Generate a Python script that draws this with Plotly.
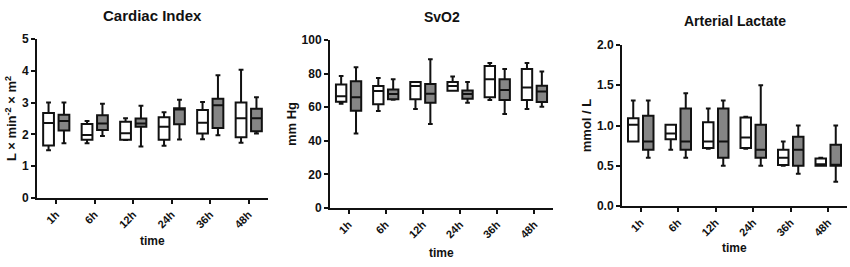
import plotly.graph_objects as go

times = ["1h", "6h", "12h", "24h", "36h", "48h"]

# Cardiac Index (L x min^-2 x m^2)
ci_w_min = [1.50, 1.72, 1.82, 1.64, 1.85, 1.74]
ci_w_q1 = [1.65, 1.83, 1.83, 1.83, 2.03, 1.91]
ci_w_med = [2.36, 1.98, 2.04, 2.24, 2.37, 2.51]
ci_w_q3 = [2.67, 2.33, 2.40, 2.54, 2.77, 3.00]
ci_w_max = [3.00, 2.42, 2.51, 2.70, 3.02, 4.03]
ci_g_min = [1.72, 1.95, 1.62, 1.84, 1.97, 2.03]
ci_g_q1 = [2.12, 2.14, 2.24, 2.32, 2.20, 2.10]
ci_g_med = [2.42, 2.34, 2.34, 2.78, 2.92, 2.51]
ci_g_q3 = [2.62, 2.60, 2.50, 2.82, 3.12, 2.81]
ci_g_max = [3.00, 2.96, 2.90, 3.09, 3.86, 3.17]

# SvO2 (mm Hg)
sv_w_min = [62.0, 57.7, 59.0, 69.8, 64.3, 59.0]
sv_w_q1 = [63.3, 61.7, 64.7, 69.8, 65.9, 64.3]
sv_w_med = [66.5, 69.6, 72.6, 72.6, 76.6, 71.8]
sv_w_q3 = [73.5, 72.6, 75.0, 75.0, 84.5, 82.8]
sv_w_max = [78.6, 77.4, 75.0, 78.2, 86.3, 86.3]
sv_g_min = [44.4, 64.5, 50.0, 62.7, 56.0, 60.3]
sv_g_q1 = [57.9, 64.7, 62.7, 65.0, 64.3, 63.1]
sv_g_med = [65.9, 67.8, 68.0, 67.8, 70.2, 69.4]
sv_g_q3 = [75.4, 70.6, 73.8, 70.0, 76.6, 72.8]
sv_g_max = [83.8, 76.6, 88.5, 75.0, 82.8, 81.2]

# Arterial Lactate (mmol / L)
la_w_min = [0.80, 0.70, 0.71, 0.71, 0.50, 0.50]
la_w_q1 = [0.80, 0.83, 0.72, 0.72, 0.51, 0.50]
la_w_med = [1.01, 0.90, 0.80, 0.85, 0.60, 0.52]
la_w_q3 = [1.09, 1.01, 1.04, 1.10, 0.70, 0.59]
la_w_max = [1.31, 1.01, 1.21, 1.11, 0.80, 0.60]
la_g_min = [0.60, 0.60, 0.50, 0.50, 0.40, 0.30]
la_g_q1 = [0.70, 0.70, 0.60, 0.60, 0.50, 0.50]
la_g_med = [0.80, 0.80, 0.80, 0.70, 0.70, 0.50]
la_g_q3 = [1.12, 1.21, 1.21, 1.01, 0.86, 0.76]
la_g_max = [1.31, 1.40, 1.31, 1.50, 1.00, 1.00]

panels = [
    ("Cardiac Index", "L × min<sup>-2</sup> × m<sup>2</sup>",
     (ci_w_min, ci_w_q1, ci_w_med, ci_w_q3, ci_w_max),
     (ci_g_min, ci_g_q1, ci_g_med, ci_g_q3, ci_g_max),
     [0, 5], 1, None),
    ("SvO2", "mm Hg",
     (sv_w_min, sv_w_q1, sv_w_med, sv_w_q3, sv_w_max),
     (sv_g_min, sv_g_q1, sv_g_med, sv_g_q3, sv_g_max),
     [0, 100], 20, None),
    ("Arterial Lactate", "mmol / L",
     (la_w_min, la_w_q1, la_w_med, la_w_q3, la_w_max),
     (la_g_min, la_g_q1, la_g_med, la_g_q3, la_g_max),
     [0, 2], 0.5, ".1f"),
]

W, H = 850, 267
# pixel geometry: (x_left, x_right, y_top, y_bottom)
geo = [(37, 268, 39, 198), (330, 553, 40, 208), (622, 847, 45, 206)]
title_y = [15, 17, 21]
title_size = [15, 14, 14]
time_y = [241, 253, 248]

FONT = "Liberation Sans, Arial, sans-serif"
fig = go.Figure()
layout = dict(
    width=W, height=H, margin=dict(l=0, r=0, t=0, b=0, autoexpand=False),
    paper_bgcolor="white", plot_bgcolor="white",
    showlegend=False, boxmode="group", boxgap=0.2, boxgroupgap=0.3,
    font=dict(family=FONT, color="#111111"),
)
annotations = []
for i, (title, ytitle, wv, gv, yr, dt, fmt) in enumerate(panels):
    n = "" if i == 0 else str(i + 1)
    xa, ya = "x" + n, "y" + n
    for vals, fill, grp in [(wv, "white", "a"), (gv, "#858585", "b")]:
        mn, q1, md, q3, mx = vals
        fig.add_trace(go.Box(
            x=times, lowerfence=mn, q1=q1, median=md, q3=q3, upperfence=mx,
            fillcolor=fill, line=dict(color="#111111", width=2),
            whiskerwidth=0.45, offsetgroup=grp, xaxis=xa, yaxis=ya,
            hoverinfo="skip",
        ))
    xl, xr, yt, yb = geo[i]
    layout["xaxis" + n] = dict(
        domain=[xl / W, xr / W], anchor=ya, type="category", automargin=False,
        range=[-0.5, 5.5], showline=True, linecolor="#111111", linewidth=2,
        ticks="outside", ticklen=4, tickwidth=2, tickcolor="#111111",
        tickangle=-45, tickfont=dict(size=11, family=FONT, weight="bold"),
        showgrid=False, zeroline=False,
    )
    layout["yaxis" + n] = dict(
        domain=[(H - yb) / H, (H - yt) / H], anchor=xa, range=yr, dtick=dt,
        automargin=False,
        tickformat=fmt, showline=True, linecolor="#111111", linewidth=2,
        ticks="outside", ticklen=4, tickwidth=2, tickcolor="#111111",
        tickfont=dict(size=12, family=FONT, weight="bold"),
        showgrid=False, zeroline=False,
        title=dict(text=ytitle, font=dict(size=13, family=FONT, weight="bold"), standoff=2),
    )
    cx = (xl + xr) / 2 / W
    annotations.append(dict(
        text="<b>" + title + "</b>", x=cx, y=1 - title_y[i] / H, xref="paper", yref="paper",
        xanchor="center", yanchor="middle", showarrow=False,
        font=dict(size=title_size[i], family=FONT, color="#111111"),
    ))
    annotations.append(dict(
        text="<b>time</b>", x=cx, y=1 - time_y[i] / H, xref="paper", yref="paper",
        xanchor="center", yanchor="middle", showarrow=False,
        font=dict(size=12, family=FONT, color="#111111"),
    ))
layout["annotations"] = annotations
fig.update_layout(**layout)
fig.write_html("out.html", config={"displayModeBar": False},
               post_script="document.body.style.margin='0';")
